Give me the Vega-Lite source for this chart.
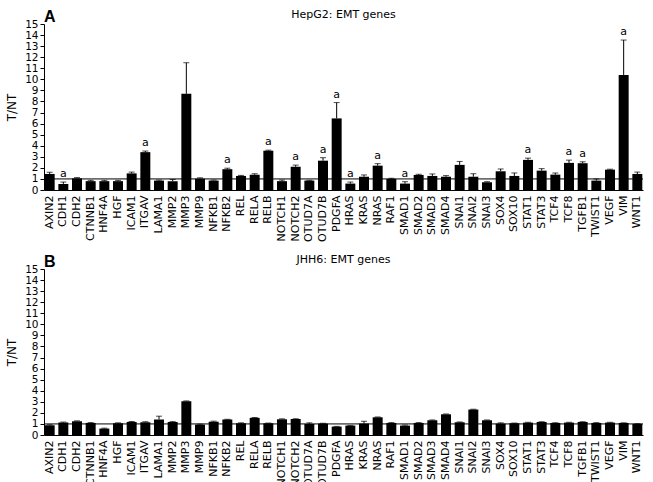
{
  "$schema": "https://vega.github.io/schema/vega-lite/v6.json",
  "padding": {"left": 5, "top": 9, "right": 2, "bottom": 0},
  "background": "white",
  "spacing": 12,
  "config": {
    "view": {"stroke": null},
    "font": "DejaVu Sans",
    "axis": {"domainColor": "black", "tickColor": "black", "labelColor": "black", "titleColor": "black", "grid": false, "labelFont": "DejaVu Sans", "titleFont": "DejaVu Sans", "labelOverlap": false, "labelBound": false},
    "axisY": {"tickCount": 15, "labelFontSize": 10.5, "tickSize": 4, "labelPadding": 2, "titlePadding": 6, "titleFontSize": 12, "titleFontWeight": "normal", "labelOverlap": false},
    "axisX": {"labelAngle": -90, "ticks": false, "labelPadding": 5, "labelFontSize": 11},
    "title": {"color": "black"}
  },
  "datasets": {
    "hepg2": [
      {"gene": "AXIN2", "value": 1.45, "hi": 1.6, "sig": ""},
      {"gene": "CDH1", "value": 0.55, "hi": 0.72, "sig": "a"},
      {"gene": "CDH2", "value": 1.05, "hi": 1.12, "sig": ""},
      {"gene": "CTNNB1", "value": 0.8, "hi": 0.87, "sig": ""},
      {"gene": "HNF4A", "value": 0.8, "hi": 0.87, "sig": ""},
      {"gene": "HGF", "value": 0.8, "hi": 0.87, "sig": ""},
      {"gene": "ICAM1", "value": 1.5, "hi": 1.62, "sig": ""},
      {"gene": "ITGAV", "value": 3.42, "hi": 3.52, "sig": "a"},
      {"gene": "LAMA1", "value": 0.85, "hi": 0.9, "sig": ""},
      {"gene": "MMP2", "value": 0.8, "hi": 0.95, "sig": ""},
      {"gene": "MMP3", "value": 8.7, "hi": 11.5, "sig": ""},
      {"gene": "MMP9", "value": 1.02, "hi": 1.1, "sig": ""},
      {"gene": "NFKB1", "value": 0.85, "hi": 0.9, "sig": ""},
      {"gene": "NFKB2", "value": 1.88, "hi": 1.97, "sig": "a"},
      {"gene": "REL", "value": 1.27, "hi": 1.32, "sig": ""},
      {"gene": "RELA", "value": 1.38, "hi": 1.47, "sig": ""},
      {"gene": "RELB", "value": 3.55, "hi": 3.6, "sig": "a"},
      {"gene": "NOTCH1", "value": 0.8, "hi": 0.9, "sig": ""},
      {"gene": "NOTCH2", "value": 2.1, "hi": 2.25, "sig": "a"},
      {"gene": "OTUD7A", "value": 0.85, "hi": 0.88, "sig": ""},
      {"gene": "OTUD7B", "value": 2.65, "hi": 2.92, "sig": "a"},
      {"gene": "PDGFA", "value": 6.47, "hi": 7.9, "sig": "a"},
      {"gene": "HRAS", "value": 0.58, "hi": 0.72, "sig": "a"},
      {"gene": "KRAS", "value": 1.2, "hi": 1.36, "sig": ""},
      {"gene": "NRAS", "value": 2.2, "hi": 2.38, "sig": "a"},
      {"gene": "RAF1", "value": 1.0, "hi": 1.06, "sig": ""},
      {"gene": "SMAD1", "value": 0.58, "hi": 0.75, "sig": "a"},
      {"gene": "SMAD2", "value": 1.36, "hi": 1.42, "sig": ""},
      {"gene": "SMAD3", "value": 1.27, "hi": 1.45, "sig": ""},
      {"gene": "SMAD4", "value": 1.2, "hi": 1.3, "sig": ""},
      {"gene": "SNAI1", "value": 2.27, "hi": 2.58, "sig": ""},
      {"gene": "SNAI2", "value": 1.2, "hi": 1.47, "sig": ""},
      {"gene": "SNAI3", "value": 0.7, "hi": 0.75, "sig": ""},
      {"gene": "SOX4", "value": 1.69, "hi": 1.9, "sig": ""},
      {"gene": "SOX10", "value": 1.27, "hi": 1.54, "sig": ""},
      {"gene": "STAT1", "value": 2.72, "hi": 2.88, "sig": "a"},
      {"gene": "STAT3", "value": 1.75, "hi": 1.93, "sig": ""},
      {"gene": "TCF4", "value": 1.39, "hi": 1.54, "sig": ""},
      {"gene": "TCF8", "value": 2.45, "hi": 2.7, "sig": "a"},
      {"gene": "TGFB1", "value": 2.42, "hi": 2.55, "sig": "a"},
      {"gene": "TWIST1", "value": 0.85, "hi": 1.0, "sig": ""},
      {"gene": "VEGF", "value": 1.84, "hi": 1.88, "sig": ""},
      {"gene": "VIM", "value": 10.4, "hi": 13.55, "sig": "a"},
      {"gene": "WNT1", "value": 1.45, "hi": 1.62, "sig": ""}
    ],
    "jhh6": [
      {"gene": "AXIN2", "value": 0.88, "hi": 0.92, "sig": ""},
      {"gene": "CDH1", "value": 1.12, "hi": 1.17, "sig": ""},
      {"gene": "CDH2", "value": 1.24, "hi": 1.28, "sig": ""},
      {"gene": "CTNNB1", "value": 1.09, "hi": 1.12, "sig": ""},
      {"gene": "HNF4A", "value": 0.58, "hi": 0.62, "sig": ""},
      {"gene": "HGF", "value": 1.06, "hi": 1.1, "sig": ""},
      {"gene": "ICAM1", "value": 1.18, "hi": 1.22, "sig": ""},
      {"gene": "ITGAV", "value": 1.15, "hi": 1.2, "sig": ""},
      {"gene": "LAMA1", "value": 1.4, "hi": 1.7, "sig": ""},
      {"gene": "MMP2", "value": 1.18, "hi": 1.21, "sig": ""},
      {"gene": "MMP3", "value": 3.05, "hi": 3.08, "sig": ""},
      {"gene": "MMP9", "value": 0.94, "hi": 0.98, "sig": ""},
      {"gene": "NFKB1", "value": 1.2, "hi": 1.25, "sig": ""},
      {"gene": "NFKB2", "value": 1.4, "hi": 1.42, "sig": ""},
      {"gene": "REL", "value": 1.06, "hi": 1.1, "sig": ""},
      {"gene": "RELA", "value": 1.55, "hi": 1.58, "sig": ""},
      {"gene": "RELB", "value": 1.06, "hi": 1.08, "sig": ""},
      {"gene": "NOTCH1", "value": 1.42, "hi": 1.46, "sig": ""},
      {"gene": "NOTCH2", "value": 1.45, "hi": 1.47, "sig": ""},
      {"gene": "OTUD7A", "value": 1.0, "hi": 1.1, "sig": ""},
      {"gene": "OTUD7B", "value": 1.03, "hi": 1.06, "sig": ""},
      {"gene": "PDGFA", "value": 0.76, "hi": 0.78, "sig": ""},
      {"gene": "HRAS", "value": 0.85, "hi": 0.87, "sig": ""},
      {"gene": "KRAS", "value": 1.03, "hi": 1.24, "sig": ""},
      {"gene": "NRAS", "value": 1.6, "hi": 1.63, "sig": ""},
      {"gene": "RAF1", "value": 1.09, "hi": 1.12, "sig": ""},
      {"gene": "SMAD1", "value": 0.85, "hi": 0.9, "sig": ""},
      {"gene": "SMAD2", "value": 1.09, "hi": 1.12, "sig": ""},
      {"gene": "SMAD3", "value": 1.33, "hi": 1.36, "sig": ""},
      {"gene": "SMAD4", "value": 1.87, "hi": 1.9, "sig": ""},
      {"gene": "SNAI1", "value": 1.15, "hi": 1.18, "sig": ""},
      {"gene": "SNAI2", "value": 2.3, "hi": 2.33, "sig": ""},
      {"gene": "SNAI3", "value": 1.33, "hi": 1.36, "sig": ""},
      {"gene": "SOX4", "value": 1.03, "hi": 1.1, "sig": ""},
      {"gene": "SOX10", "value": 1.06, "hi": 1.08, "sig": ""},
      {"gene": "STAT1", "value": 1.12, "hi": 1.15, "sig": ""},
      {"gene": "STAT3", "value": 1.18, "hi": 1.2, "sig": ""},
      {"gene": "TCF4", "value": 1.09, "hi": 1.11, "sig": ""},
      {"gene": "TCF8", "value": 1.12, "hi": 1.15, "sig": ""},
      {"gene": "TGFB1", "value": 1.18, "hi": 1.2, "sig": ""},
      {"gene": "TWIST1", "value": 1.09, "hi": 1.12, "sig": ""},
      {"gene": "VEGF", "value": 1.12, "hi": 1.15, "sig": ""},
      {"gene": "VIM", "value": 1.09, "hi": 1.1, "sig": ""},
      {"gene": "WNT1", "value": 1.0, "hi": 1.02, "sig": ""}
    ],
    "ref": [{"r": 1}]
  },
  "vconcat": [
    {
      "title": {"text": "A", "anchor": "start", "frame": "group", "fontSize": 16, "fontWeight": "bold", "font": "Liberation Sans", "offset": -16},
      "vconcat": [
        {
          "width": 599,
          "height": 166,
          "title": {"text": "HepG2: EMT genes", "frame": "group", "anchor": "middle", "fontSize": 11, "fontWeight": "normal", "offset": -1},
          "layer": [
            {
              "data": {"name": "hepg2"},
              "mark": {"type": "bar", "color": "black"},
              "encoding": {
                "x": {"field": "gene", "type": "nominal", "sort": null, "scale": {"paddingInner": 0.27, "paddingOuter": 0.05}, "title": null},
                "y": {"field": "value", "type": "quantitative", "scale": {"domain": [0, 15], "nice": false}, "title": "T/NT"}
              }
            },
            {
              "data": {"name": "hepg2"},
              "mark": {"type": "rule", "color": "black"},
              "encoding": {
                "x": {"field": "gene", "type": "nominal", "sort": null, "title": null},
                "y": {"field": "value", "type": "quantitative", "title": "T/NT"},
                "y2": {"field": "hi"}
              }
            },
            {
              "data": {"name": "hepg2"},
              "mark": {"type": "tick", "color": "black", "thickness": 1, "size": 6, "orient": "horizontal"},
              "encoding": {
                "x": {"field": "gene", "type": "nominal", "sort": null, "title": null},
                "y": {"field": "hi", "type": "quantitative", "title": "T/NT"}
              }
            },
            {
              "data": {"name": "hepg2"},
              "transform": [{"filter": "datum.sig != ''"}],
              "mark": {"type": "text", "baseline": "bottom", "dy": -3, "fontSize": 11, "color": "black"},
              "encoding": {
                "x": {"field": "gene", "type": "nominal", "sort": null, "title": null},
                "y": {"field": "hi", "type": "quantitative", "title": "T/NT"},
                "text": {"field": "sig"}
              }
            },
            {
              "data": {"name": "ref"},
              "mark": {"type": "rule", "color": "black"},
              "encoding": {"y": {"field": "r", "type": "quantitative", "title": "T/NT"}}
            }
          ]
        }
      ]
    },
    {
      "title": {"text": "B", "anchor": "start", "frame": "group", "fontSize": 16, "fontWeight": "bold", "font": "Liberation Sans", "offset": -16},
      "vconcat": [
        {
          "width": 599,
          "height": 166,
          "title": {"text": "JHH6: EMT genes", "frame": "group", "anchor": "middle", "fontSize": 11, "fontWeight": "normal", "offset": -1},
          "layer": [
            {
              "data": {"name": "jhh6"},
              "mark": {"type": "bar", "color": "black"},
              "encoding": {
                "x": {"field": "gene", "type": "nominal", "sort": null, "scale": {"paddingInner": 0.27, "paddingOuter": 0.05}, "title": null},
                "y": {"field": "value", "type": "quantitative", "scale": {"domain": [0, 15], "nice": false}, "title": "T/NT"}
              }
            },
            {
              "data": {"name": "jhh6"},
              "mark": {"type": "rule", "color": "black"},
              "encoding": {
                "x": {"field": "gene", "type": "nominal", "sort": null, "title": null},
                "y": {"field": "value", "type": "quantitative", "title": "T/NT"},
                "y2": {"field": "hi"}
              }
            },
            {
              "data": {"name": "jhh6"},
              "mark": {"type": "tick", "color": "black", "thickness": 1, "size": 6, "orient": "horizontal"},
              "encoding": {
                "x": {"field": "gene", "type": "nominal", "sort": null, "title": null},
                "y": {"field": "hi", "type": "quantitative", "title": "T/NT"}
              }
            },
            {
              "data": {"name": "ref"},
              "mark": {"type": "rule", "color": "black"},
              "encoding": {"y": {"field": "r", "type": "quantitative", "title": "T/NT"}}
            }
          ]
        }
      ]
    }
  ]
}
